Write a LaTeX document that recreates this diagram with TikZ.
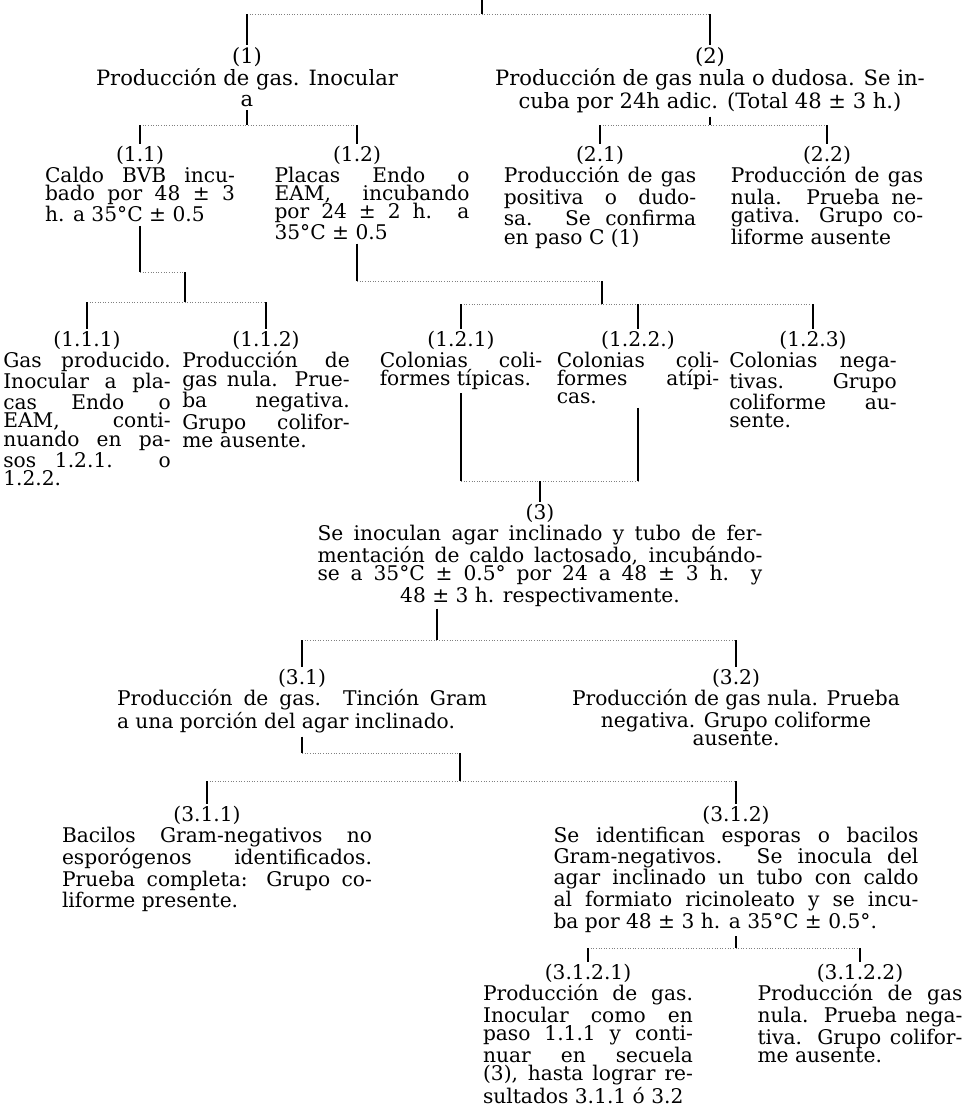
\documentclass[tikz,border=0pt]{standalone}
\usepackage{fontspec}
\setmainfont{DejaVu Serif}
\usetikzlibrary{positioning}
\tolerance=9000
\hbadness=10000
\hyphenpenalty=10000
\begin{document}
\begin{tikzpicture}[x=0.02cm, y=-0.02cm,
    num/.style={inner sep=0pt, font=\fontsize{11.5}{11.5}\selectfont},
    bignum/.style={inner sep=0pt, font=\fontsize{12}{12}\selectfont},
    txt/.style={inner sep=0pt, align=justify, font=\fontsize{11.5}{10.4}\selectfont},
    bigtxt/.style={inner sep=0pt, align=center, font=\fontsize{12}{11.5}\selectfont},
    vl/.style={line width=0.7pt},
    hl/.style={gray, line width=0.5pt, densely dotted}]
    \useasboundingbox (0,0) rectangle (965,1117);

    \node[bignum] (l1) at (247,57) {(1)};
    \node[bigtxt, below=1pt of l1] (t1) {Producción de gas. Inocular\\a};
    \node[bignum] (l2) at (710,57) {(2)};
    \node[bigtxt, below=1pt of l2] (t2) {Producción de gas nula o dudosa. Se in-\\cuba por 24h adic. (Total 48 ± 3 h.)};

    \node[num] (l11) at (140,155) {(1.1)};
    \node[txt, text width=3.8cm, below=1pt of l11] (t11) {Caldo BVB incu-\linebreak bado por 48 ± 3\linebreak h. a 35°C ± 0.5};
    \node[num] (l12) at (357,155) {(1.2)};
    \node[txt, text width=3.9cm, below=1pt of l12, xshift=0.3cm] (t12) {Placas Endo o\linebreak EAM, incubando\linebreak por 24 ± 2 h. a\linebreak 35°C ± 0.5};
    \node[num] (l21) at (600,155) {(2.1)};
    \node[txt, text width=3.85cm, below=1pt of l21] (t21) {Producción de gas\linebreak positiva o dudo-\linebreak sa. Se confirma\linebreak en paso C (1)};
    \node[num] (l22) at (827,155) {(2.2)};
    \node[txt, text width=3.85cm, below=1pt of l22] (t22) {Producción de gas\linebreak nula. Prueba ne-\linebreak gativa. Grupo co-\linebreak liforme ausente};

    \node[num] (l111) at (87,340) {(1.1.1)};
    \node[txt, text width=3.35cm, below=1pt of l111] (t111) {Gas producido.\linebreak Inocular a pla-\linebreak cas Endo o\linebreak EAM, conti-\linebreak nuando en pa-\linebreak sos 1.2.1. o\linebreak 1.2.2.};
    \node[num] (l112) at (266,340) {(1.1.2)};
    \node[txt, text width=3.35cm, below=1pt of l112] (t112) {Producción de\linebreak gas nula. Prue-\linebreak ba negativa.\linebreak Grupo colifor-\linebreak me ausente.};
    \node[num] (l121) at (461,340) {(1.2.1)};
    \node[txt, text width=3.25cm, below=1pt of l121] (t121) {Colonias coli-\linebreak formes típicas.};
    \node[num] (l122) at (638,340) {(1.2.2.)};
    \node[txt, text width=3.25cm, below=1pt of l122] (t122) {Colonias coli-\linebreak formes atípi-\linebreak cas.};
    \node[num] (l123) at (813,340) {(1.2.3)};
    \node[txt, text width=3.35cm, below=1pt of l123] (t123) {Colonias nega-\linebreak tivas. Grupo\linebreak coliforme au-\linebreak sente.};

    \node[num] (l3) at (540,513) {(3)};
    \node[txt, text width=8.9cm, below=1pt of l3] (t3) {Se inoculan agar inclinado y tubo de fer-\linebreak mentación de caldo lactosado, incubándo-\linebreak se a 35°C ± 0.5° por 24 a 48 ± 3 h. y\parfillskip=0pt\par{\centering 48 ± 3 h. respectivamente.\par}};

    \node[num] (l31) at (302,678) {(3.1)};
    \node[txt, text width=7.4cm, below=1pt of l31] (t31) {Producción de gas. Tinción Gram\linebreak a una porción del agar inclinado.};
    \node[num] (l32) at (736,678) {(3.2)};
    \node[txt, align=center, below=1pt of l32] (t32) {Producción de gas nula. Prueba\\negativa. Grupo coliforme\\ausente.};

    \node[num] (l311) at (207,815) {(3.1.1)};
    \node[txt, text width=6.2cm, below=1pt of l311, xshift=0.2cm] (t311) {Bacilos Gram-negativos no\linebreak esporógenos identificados.\linebreak Prueba completa: Grupo co-\linebreak liforme presente.};
    \node[num] (l312) at (736,815) {(3.1.2)};
    \node[txt, text width=7.3cm, below=1pt of l312] (t312) {Se identifican esporas o bacilos\linebreak Gram-negativos. Se inocula del\linebreak agar inclinado un tubo con caldo\linebreak al formiato ricinoleato y se incu-\linebreak ba por 48 ± 3 h. a 35°C ± 0.5°.};

    \node[num] (l3121) at (588,973) {(3.1.2.1)};
    \node[txt, text width=4.2cm, below=1pt of l3121] (t3121) {Producción de gas.\linebreak Inocular como en\linebreak paso 1.1.1 y conti-\linebreak nuar en secuela\linebreak (3), hasta lograr re-\linebreak sultados 3.1.1 ó 3.2};
    \node[num] (l3122) at (860,973) {(3.1.2.2)};
    \node[txt, text width=4.1cm, below=1pt of l3122] (t3122) {Producción de gas\linebreak nula. Prueba nega-\linebreak tiva. Grupo colifor-\linebreak me ausente.};

    \coordinate (top) at (482,0);
    \coordinate (k0) at (482,14);
    \draw[vl] (top) -- (k0);
    \draw[hl] (l1 |- k0) -- (l2 |- k0);
    \foreach \n in {l1,l2} \draw[vl, shorten >=1pt] (\n |- k0) -- (\n.north);

    \coordinate (k1) at (0,125);
    \draw[vl, shorten <=2pt] (l1 |- t1.south) -- (l1 |- k1);
    \draw[vl, shorten <=2pt] (l2 |- t2.south) -- (l2 |- k1);
    \draw[hl] (l11 |- k1) -- (l12 |- k1);
    \draw[hl] (l21 |- k1) -- (l22 |- k1);
    \foreach \n in {l11,l12,l21,l22} \draw[vl, shorten >=1pt] (\n |- k1) -- (\n.north);

    \coordinate (j11) at (185,272);
    \coordinate (k2) at (0,302);
    \draw[vl, shorten <=2pt] (l11 |- t11.south) -- (l11 |- j11);
    \draw[hl] (l11 |- j11) -- (j11);
    \draw[vl] (j11) -- (j11 |- k2);
    \draw[hl] (l111 |- k2) -- (l112 |- k2);
    \foreach \n in {l111,l112} \draw[vl, shorten >=1pt] (\n |- k2) -- (\n.north);

    \coordinate (j12) at (602,281);
    \coordinate (k2b) at (0,304);
    \draw[vl, shorten <=2pt] (l12 |- t12.south) -- (l12 |- j12);
    \draw[hl] (l12 |- j12) -- (j12);
    \draw[vl] (j12) -- (j12 |- k2b);
    \draw[hl] (l121 |- k2b) -- (l123 |- k2b);
    \foreach \n in {l121,l122,l123} \draw[vl, shorten >=1pt] (\n |- k2b) -- (\n.north);

    \coordinate (k3) at (0,481);
    \draw[vl, shorten <=2pt] (l121 |- t121.south) -- (l121 |- k3);
    \draw[vl, shorten <=2pt] (l122 |- t122.south) -- (l122 |- k3);
    \draw[hl] (l121 |- k3) -- (l122 |- k3);
    \draw[vl, shorten >=1pt] (l3 |- k3) -- (l3.north);

    \coordinate (s3) at (437,0);
    \coordinate (k4) at (0,640);
    \draw[vl, shorten <=1pt] (s3 |- t3.south) -- (s3 |- k4);
    \draw[hl] (l31 |- k4) -- (l32 |- k4);
    \foreach \n in {l31,l32} \draw[vl, shorten >=1pt] (\n |- k4) -- (\n.north);

    \coordinate (j31) at (460,753);
    \coordinate (k5) at (0,781);
    \draw[vl, shorten <=2pt] (l31 |- t31.south) -- (l31 |- j31);
    \draw[hl] (l31 |- j31) -- (j31);
    \draw[vl] (j31) -- (j31 |- k5);
    \draw[hl] (l311 |- k5) -- (l312 |- k5);
    \foreach \n in {l311,l312} \draw[vl, shorten >=1pt] (\n |- k5) -- (\n.north);

    \coordinate (k6) at (0,948);
    \draw[vl, shorten <=2pt] (l312 |- t312.south) -- (l312 |- k6);
    \draw[hl] (l3121 |- k6) -- (l3122 |- k6);
    \foreach \n in {l3121,l3122} \draw[vl, shorten >=1pt] (\n |- k6) -- (\n.north);
\end{tikzpicture}
\end{document}
